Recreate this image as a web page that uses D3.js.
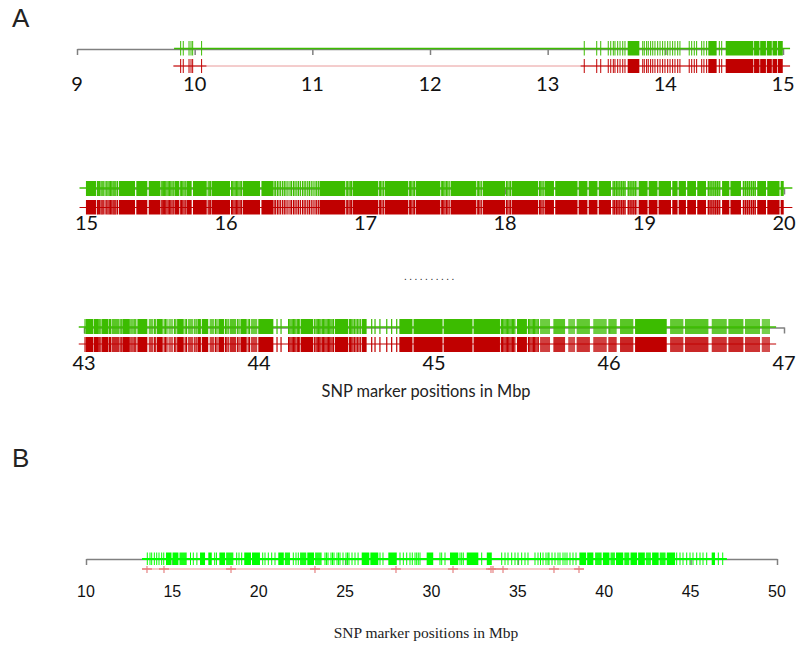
<!DOCTYPE html>
<html><head><meta charset="utf-8">
<script src="https://cdn.jsdelivr.net/npm/d3@7"></script>
<style>body{margin:0;background:#fff}svg{display:block}</style>
</head><body>
<svg id="chart" width="796" height="645"></svg>
<script>
// ---------- Panel A, row 1 (9–15 Mbp) ----------
const a1Ticks = [9, 10, 11, 12, 13, 14, 15];
const a1Span = [9.825, 15.06];
const a1Markers = [9.881, 9.903, 9.952, 9.969, 9.983, 10.059,
  13.311, 13.417, 13.451, 13.515, 13.536, 13.558, 13.572, 13.595, 13.615, 13.638, 13.657,
  13.808, 13.821, 13.841, 13.855, 13.875, 13.893, 13.912, 13.935, 13.955, 13.977, 13.997,
  14.020, 14.040, 14.062, 14.082, 14.105, 14.124, 14.203, 14.224, 14.246, 14.266, 14.309,
  14.328, 14.351, 14.459, 14.479];
const a1Blocks = [[13.680, 13.779, 1], [14.365, 14.436, 1], [14.513, 14.748, 1],
  [14.754, 14.800, 1], [14.806, 14.855, 1], [14.862, 14.905, 1], [14.911, 14.950, 1], [14.956, 14.998, 1]];
const a1RedDark = [[9.818, 10.10], [13.28, 15.06]];

// ---------- Panel A, row 2 (15–20 Mbp) ----------
const a2Ticks = [15, 16, 17, 18, 19, 20];
const a2Span = [14.95, 20.06];
const a2Markers = [15.078, 15.085, 15.094, 15.104, 15.112, 15.120, 15.133, 15.145, 15.154, 15.163,
  15.172, 15.181, 15.190, 15.197, 15.204, 15.211, 15.222,
  15.535, 15.543, 15.551, 15.560, 15.568, 15.577, 15.586, 15.595, 15.604, 15.613, 15.622,
  15.672, 15.681, 15.690, 15.699, 15.708, 15.872, 15.880, 15.888,
  16.040, 16.048, 16.057, 16.066, 16.075, 16.084, 16.093, 16.102, 16.112,
  16.345, 16.356, 16.369, 16.380, 16.392, 16.406, 16.418, 16.430, 16.444, 16.459, 16.470,
  16.484, 16.495, 16.508, 16.520, 16.533, 16.548, 16.560, 16.572, 16.586, 16.598, 16.611,
  16.624, 16.638, 16.650, 16.662,
  16.862, 16.872, 16.882, 16.891, 16.900, 17.099, 17.108, 17.118, 17.128,
  17.314, 17.323, 17.332, 17.342, 17.351, 17.543, 17.552, 17.561, 17.570, 17.580, 17.590, 17.600,
  17.801, 17.810, 17.820, 17.830, 18.010, 18.020, 18.030, 18.040, 18.247, 18.256, 18.265, 18.274,
  18.775, 18.786, 18.799, 18.810, 18.823, 18.836, 18.848, 18.860, 18.884, 18.897, 18.910, 18.923, 18.936,
  19.458, 19.470, 19.483, 19.497, 19.510, 19.523, 19.536, 19.710, 19.724, 19.738, 19.752, 19.767, 19.781, 19.794];
const a2Blocks = [[14.996, 15.068, 1], [15.232, 15.348, 1], [15.357, 15.436, 1], [15.446, 15.527, 1],
  [15.630, 15.663, 1], [15.716, 15.754, 1], [15.763, 15.862, 1], [15.896, 16.029, 1],
  [16.121, 16.244, 1], [16.254, 16.339, 1], [16.670, 16.853, 1], [16.908, 17.090, 1],
  [17.137, 17.305, 1], [17.360, 17.534, 1], [17.610, 17.792, 1], [17.840, 18.000, 1],
  [18.048, 18.237, 1], [18.283, 18.351, 1], [18.360, 18.520, 1], [18.528, 18.591, 1],
  [18.600, 18.663, 1], [18.672, 18.760, 1], [18.771, 18.867, 0.45], [18.878, 18.950, 0.5],
  [18.958, 19.022, 1], [19.030, 19.093, 1], [19.101, 19.190, 1], [19.199, 19.237, 1],
  [19.245, 19.297, 1], [19.306, 19.369, 1], [19.378, 19.441, 1], [19.452, 19.547, 0.5],
  [19.556, 19.608, 1], [19.616, 19.692, 1], [19.703, 19.799, 0.5], [19.808, 19.871, 1],
  [19.880, 19.968, 1], [19.976, 19.998, 1]];

// ---------- Panel A, row 3 (43–47 Mbp) ----------
const a3Ticks = [43, 44, 45, 46, 47];
const a3Span = [42.97, 46.955];
const a3Markers = [43.006, 43.090, 43.097, 43.146, 43.152, 43.206, 43.213, 43.268, 43.275,
  43.402, 43.410, 43.458, 43.466, 43.474, 43.518, 43.525, 43.578, 43.586, 43.633, 43.641,
  43.752, 43.760, 43.808, 43.816, 43.824, 43.878, 43.886, 43.938, 43.946,
  44.103, 44.126, 44.169, 44.176, 44.183, 44.190, 44.197, 44.204, 44.211, 44.219, 44.226, 44.233,
  44.318, 44.326, 44.333, 44.340, 44.347, 44.354, 44.362, 44.369, 44.376, 44.383, 44.390, 44.397,
  44.404, 44.411, 44.418, 44.426,
  44.518, 44.523, 44.530, 44.537, 44.545, 44.554, 44.562, 44.571, 44.579,
  44.644, 44.663, 44.691, 44.730, 44.758, 44.787,
  45.385, 45.392, 45.399, 45.406, 45.413, 45.420, 45.427, 45.434, 45.441, 45.448, 45.455, 45.462,
  45.540, 45.547, 45.554, 45.561, 45.568, 45.575, 45.582, 45.589, 45.596];
const a3Blocks = [[43.011, 43.053, 1], [43.056, 43.085, 1], [43.103, 43.140, 1], [43.158, 43.200, 0.85],
  [43.219, 43.262, 1], [43.281, 43.300, 0.85], [43.305, 43.362, 1],
  [43.370, 43.395, 0.75], [43.417, 43.450, 1], [43.482, 43.510, 0.65], [43.532, 43.570, 1],
  [43.594, 43.625, 0.75], [43.648, 43.668, 1], [43.673, 43.710, 1],
  [43.718, 43.745, 0.75], [43.768, 43.800, 1], [43.832, 43.870, 0.85], [43.894, 43.930, 1],
  [43.954, 43.990, 0.75], [43.996, 44.082, 1],
  [44.240, 44.310, 1], [44.434, 44.510, 1], [44.587, 44.615, 1],
  [44.802, 44.877, 1], [44.883, 45.049, 1], [45.055, 45.220, 1], [45.226, 45.377, 1],
  [45.474, 45.531, 1], [45.606, 45.663, 0.75], [45.682, 45.749, 0.85], [45.767, 45.806, 0.7],
  [45.815, 45.891, 0.8], [45.910, 45.987, 0.75], [45.996, 46.044, 0.8], [46.063, 46.139, 0.85],
  [46.149, 46.330, 1], [46.349, 46.425, 0.8], [46.434, 46.568, 0.85], [46.587, 46.673, 0.8],
  [46.682, 46.768, 0.85], [46.777, 46.863, 0.8], [46.873, 46.920, 0.7]];

// ---------- Panel B (10–50 Mbp) ----------
const bTicks = [10, 15, 20, 25, 30, 35, 40, 45, 50];
const bGreenSpan = [13.24, 47.1];
const bRedSpan = [13.24, 38.83];
const bGreenMarkers = [13.549, 13.705, 13.803, 13.956, 14.093, 14.226, 14.381, 14.50,
  16.05, 16.211, 16.42, 17.45, 17.55, 18.723, 18.857, 19.013, 20.229, 20.362, 20.553, 20.750, 20.941,
  22.000, 22.156, 22.290,
  23.835, 23.92, 24.009, 24.183, 24.27, 24.356, 24.530, 24.62, 24.704, 24.877, 25.051, 25.14,
  25.224, 25.398, 25.572, 25.75,
  27.019, 27.192, 28.177, 28.369, 28.565, 28.755, 28.888, 29.045, 29.143, 29.235, 29.334,
  30.492, 30.590, 30.782, 31.650, 31.748, 31.841, 32.906,
  34.064, 34.255, 34.429, 34.643, 34.834, 35.007, 35.221, 35.412, 35.586,
  35.991, 36.165, 36.310, 36.455, 36.628, 36.744, 36.802, 36.976, 37.149, 37.323,
  37.438, 37.612, 37.728, 37.844, 38.017, 38.191, 38.365,
  44.194, 44.385, 44.559, 44.773, 44.964, 45.137, 45.352, 45.543, 45.717, 45.931,
  46.603, 46.857];
const bGreenBlocks = [[14.63, 14.95, 1], [15.01, 15.35, 1], [15.41, 15.83, 0.9],
  [16.60, 16.89, 1], [17.08, 17.28, 1], [17.72, 18.05, 1], [18.11, 18.53, 0.9],
  [19.16, 19.55, 1], [19.61, 20.07, 1], [21.13, 21.45, 1], [21.51, 21.81, 0.9],
  [22.39, 22.75, 0.9], [22.81, 23.20, 1], [23.26, 23.64, 0.85],
  [25.96, 26.40, 1], [26.46, 26.92, 1], [27.50, 27.99, 1], [29.72, 30.10, 1], [31.07, 31.55, 1],
  [32.04, 32.71, 1], [33.20, 33.49, 1], [38.56, 38.95, 1], [39.01, 39.37, 1],
  [39.47, 39.85, 0.9], [39.92, 40.30, 1], [40.36, 40.62, 0.85], [40.68, 41.10, 1],
  [41.16, 41.45, 0.9], [41.52, 41.90, 1], [41.96, 42.35, 1], [42.41, 42.70, 0.85],
  [42.77, 43.15, 1], [43.21, 43.55, 0.9], [43.62, 44.10, 1], [46.22, 46.41, 1]];
const bRedMarkers = [13.531, 14.515, 18.394, 23.256, 27.945, 31.245, 33.444, 33.560, 34.139, 37.091, 38.538];

// ---------- drawing ----------
const svg = d3.select("#chart");
const GREEN = "#3cbc00", RED = "#c00000", GRAY = "#808080";

function drawAxis(x, ticks, y) {
  const g = svg.append("g").attr("transform", `translate(0,${y})`)
    .call(d3.axisBottom(x).tickValues(ticks).tickSize(6).tickSizeOuter(0).tickFormat(""));
  g.select(".domain").attr("stroke", GRAY).attr("stroke-width", 1.5);
  g.selectAll(".tick line").attr("stroke", GRAY).attr("stroke-width", 1.5);
  return g;
}

function drawLabels(x, ticks, y, font, size) {
  svg.append("g").selectAll("text").data(ticks).join("text")
    .attr("x", d => x(d)).attr("y", y)
    .attr("text-anchor", "middle")
    .attr("font-family", font).attr("font-size", size).attr("fill", "#111")
    .text(d => d);
}

function drawTrack(x, t) {
  const g = svg.append("g");
  g.append("line")
    .attr("x1", x(t.span[0])).attr("x2", x(t.span[1]))
    .attr("y1", t.y).attr("y2", t.y)
    .attr("stroke", t.lineColor).attr("stroke-width", t.lineWidth);
  (t.darkSpans || []).forEach(s => {
    g.append("line").attr("x1", x(s[0])).attr("x2", x(s[1]))
      .attr("y1", t.y).attr("y2", t.y)
      .attr("stroke", t.color).attr("stroke-width", t.lineWidth);
  });
  g.selectAll("rect.blk").data(t.blocks || []).join("rect")
    .attr("class", "blk")
    .attr("x", d => x(d[0])).attr("width", d => Math.max(1, x(d[1]) - x(d[0])))
    .attr("y", t.y0).attr("height", t.y1 - t.y0)
    .attr("fill", t.color).attr("fill-opacity", d => d[2]);
  g.selectAll("line.mk").data(t.markers).join("line")
    .attr("class", "mk")
    .attr("x1", d => x(d)).attr("x2", d => x(d))
    .attr("y1", t.y0).attr("y2", t.y1)
    .attr("stroke", t.color).attr("stroke-width", t.tickWidth || 1);
  return g;
}

// Row 1
const x1 = d3.scaleLinear().domain([9, 15]).range([77, 783]);
drawAxis(x1, a1Ticks, 49);
drawTrack(x1, {span: a1Span, y: 48.5, y0: 41, y1: 55.5, color: GREEN, lineColor: GREEN, lineWidth: 1.5,
  markers: a1Markers, blocks: a1Blocks});
drawTrack(x1, {span: a1Span, y: 66, y0: 59, y1: 73, color: RED, lineColor: "#e99a9a", lineWidth: 1,
  markers: a1Markers, blocks: a1Blocks, darkSpans: a1RedDark});
drawLabels(x1, a1Ticks, 91, "Lato", 20);

// Row 2
const x2 = d3.scaleLinear().domain([15, 20]).range([86.5, 784]);
drawAxis(x2, a2Ticks, 188.5);
drawTrack(x2, {span: a2Span, y: 188, y0: 181, y1: 196, color: GREEN, lineColor: GREEN, lineWidth: 1.5,
  markers: a2Markers, blocks: a2Blocks, tickWidth: 1.2});
drawTrack(x2, {span: a2Span, y: 207.5, y0: 200, y1: 214.5, color: RED, lineColor: RED, lineWidth: 1,
  markers: a2Markers, blocks: a2Blocks, tickWidth: 1.2});
drawLabels(x2, a2Ticks, 230, "Lato", 20);

svg.append("text").attr("x", 404).attr("y", 280)
  .attr("font-family", "Liberation Sans").attr("font-size", 10)
  .attr("letter-spacing", 2.5).attr("fill", "#222").text("..........");

// Row 3
const x3 = d3.scaleLinear().domain([43, 47]).range([84, 784]);
drawAxis(x3, a3Ticks, 327.5);
drawTrack(x3, {span: a3Span, y: 327, y0: 319, y1: 334, color: GREEN, lineColor: GREEN, lineWidth: 1.5,
  markers: a3Markers, blocks: a3Blocks, tickWidth: 1.2});
drawTrack(x3, {span: a3Span, y: 344, y0: 337, y1: 352, color: RED, lineColor: RED, lineWidth: 1,
  markers: a3Markers, blocks: a3Blocks, tickWidth: 1.2});
drawLabels(x3, a3Ticks, 370, "Lato", 20);

svg.append("text").attr("x", 426).attr("y", 397).attr("text-anchor", "middle")
  .attr("font-family", "Lato").attr("font-size", 16.4).attr("fill", "#222")
  .text("SNP marker positions in Mbp");

// Panel B
const xb = d3.scaleLinear().domain([10, 50]).range([86, 777]);
drawAxis(xb, bTicks, 559);
drawTrack(xb, {span: bGreenSpan, y: 559, y0: 552.5, y1: 565, color: "#00ff00", lineColor: "#00ff00", lineWidth: 2,
  markers: bGreenMarkers, blocks: bGreenBlocks});
const rb = drawTrack(xb, {span: bRedSpan, y: 569, y0: 566, y1: 573, color: "#e06a6a", lineColor: "#f5b8b8", lineWidth: 1.5,
  markers: bRedMarkers});
rb.selectAll("line.cross").data(bRedMarkers).join("line")
  .attr("class", "cross")
  .attr("x1", d => xb(d) - 5).attr("x2", d => xb(d) + 5)
  .attr("y1", 569).attr("y2", 569)
  .attr("stroke", "#e88080").attr("stroke-width", 1.5);
drawLabels(xb, bTicks, 597, "Liberation Sans", 16);

svg.append("text").attr("x", 426).attr("y", 637.5).attr("text-anchor", "middle")
  .attr("font-family", "Liberation Serif").attr("font-size", 15.5).attr("fill", "#222")
  .text("SNP marker positions in Mbp");

// Panel letters
svg.append("text").attr("x", 12).attr("y", 27).attr("font-family", "Liberation Sans")
  .attr("font-size", 26).attr("fill", "#222").text("A");
svg.append("text").attr("x", 12).attr("y", 467).attr("font-family", "Liberation Sans")
  .attr("font-size", 26).attr("fill", "#222").text("B");
</script>
</body></html>
